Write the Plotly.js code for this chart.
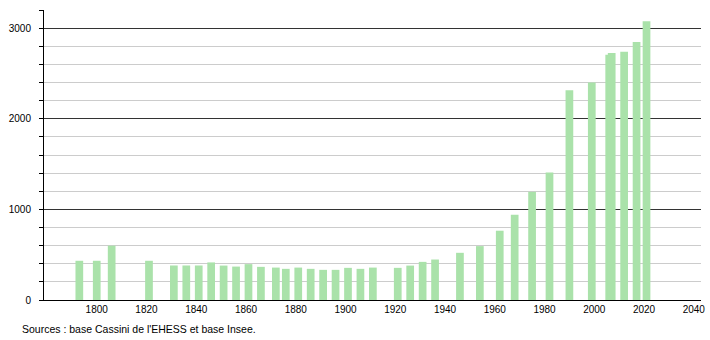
<!DOCTYPE html>
<html>
<head>
<meta charset="utf-8">
<script src="https://cdn.plot.ly/plotly-3.0.1.min.js"></script>
<style>html,body{margin:0;padding:0;background:#fff;}</style>
</head>
<body>
<div id="chart" style="width:710px;height:340px;"></div>
<script>
const years = [1793,1800,1806,1821,1831,1836,1841,1846,1851,1856,1861,1866,1872,1876,1881,1886,1891,1896,1901,1906,1911,1921,1926,1931,1936,1946,1954,1962,1968,1975,1982,1990,1999,2006,2007,2012,2017,2021];
const population = [433,433,600,433,381,381,381,415,380,369,396,366,358,344,358,344,333,333,355,344,358,355,380,421,447,521,595,765,942,1194,1408,2317,2402,2708,2727,2742,2849,3078];
const xTickVals = [1800,1820,1840,1860,1880,1900,1920,1940,1960,1980,2000,2020,2040];
const yTickVals = [0,1000,2000,3000];
const sourceText = "Sources : base Cassini de l'EHESS et base Insee.";

const font = "Liberation Sans, Arial, sans-serif";
const trace = {
  type: 'bar',
  x: years,
  y: population,
  width: 3.1,
  marker: {color: 'rgb(170,226,170)', line: {width: 0}},
  hoverinfo: 'x+y'
};
const layout = {
  width: 710, height: 340,
  margin: {l: 44, r: 9, t: 10, b: 40},
  paper_bgcolor: '#fff', plot_bgcolor: '#fff',
  showlegend: false,
  font: {family: font, size: 10, color: '#000'},
  xaxis: {
    range: [1778.8, 2042.9],
    tickvals: xTickVals,
    ticktext: xTickVals.map(String),
    ticks: '',
    showgrid: false, zeroline: false,
    showline: true, linecolor: '#000', linewidth: 1,
    tickfont: {family: font, size: 10, color: '#000'}
  },
  yaxis: {
    range: [0, 3202],
    tickvals: yTickVals,
    ticktext: yTickVals.map(String),
    ticks: 'outside', ticklen: 4, tickcolor: '#000', tickwidth: 1,
    ticklabelstandoff: 6,
    showgrid: true, gridcolor: '#333', gridwidth: 1,
    zeroline: false,
    showline: true, linecolor: '#000', linewidth: 1,
    tickfont: {family: font, size: 10, color: '#000'},
    minor: {dtick: 200, tick0: 0, showgrid: true, gridcolor: '#ccc', gridwidth: 1,
            ticks: 'outside', ticklen: 4, tickcolor: '#000', tickwidth: 1}
  },
  annotations: [{
    text: sourceText,
    xref: 'paper', yref: 'paper',
    x: -0.0365, y: -0.1, xanchor: 'left', yanchor: 'middle',
    showarrow: false,
    font: {family: font, size: 10.5, color: '#000'}
  }]
};
Plotly.newPlot('chart', [trace], layout, {displayModeBar: false, staticPlot: true});
</script>
</body>
</html>
